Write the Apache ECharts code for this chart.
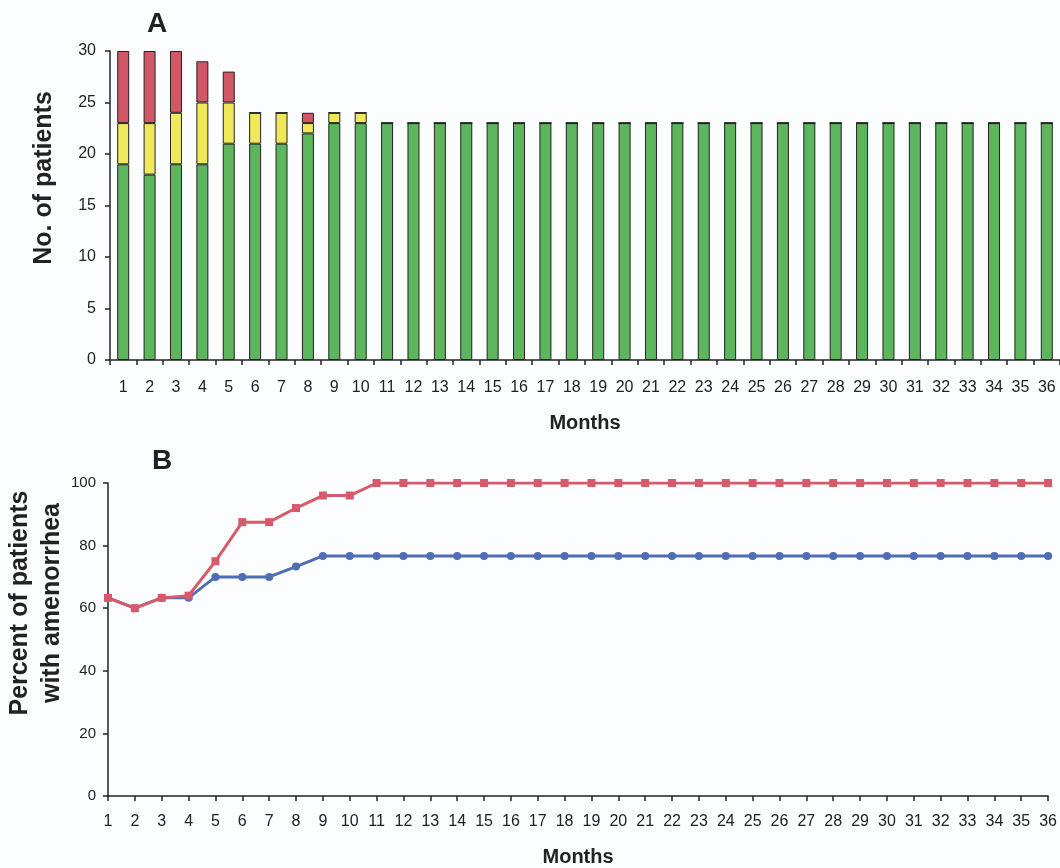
<!DOCTYPE html>
<html>
<head>
<meta charset="utf-8">
<script src="https://cdn.jsdelivr.net/npm/echarts@6/dist/echarts.min.js"></script>
<style>
  html, body { margin: 0; padding: 0; background: #fcfdfe; }
  #main { width: 1060px; height: 868px; }
</style>
</head>
<body>
<div id="main"></div>
<script>
const months = [];
for (let m = 1; m <= 36; m++) months.push(String(m));

// panel A: patients per month, stacked
const greenCounts = [19, 18, 19, 19, 21, 21, 21, 22, 23, 23,
    23, 23, 23, 23, 23, 23, 23, 23, 23, 23, 23, 23, 23, 23, 23, 23, 23, 23, 23, 23, 23, 23, 23, 23, 23, 23];
const yellowCounts = [4, 5, 5, 6, 4, 3, 3, 1, 1, 1,
    0, 0, 0, 0, 0, 0, 0, 0, 0, 0, 0, 0, 0, 0, 0, 0, 0, 0, 0, 0, 0, 0, 0, 0, 0, 0];
const redCounts = [7, 7, 6, 4, 3, 0, 0, 1, 0, 0,
    0, 0, 0, 0, 0, 0, 0, 0, 0, 0, 0, 0, 0, 0, 0, 0, 0, 0, 0, 0, 0, 0, 0, 0, 0, 0];

// panel B: percent with amenorrhea
const redPercent = [63.3, 60, 63.3, 64, 75, 87.5, 87.5, 92, 96, 96,
    100, 100, 100, 100, 100, 100, 100, 100, 100, 100, 100, 100, 100, 100, 100, 100, 100, 100, 100, 100, 100, 100, 100, 100, 100, 100];
const bluePercent = [63.3, 60, 63.3, 63.3, 70, 70, 70, 73.3, 76.7, 76.7,
    76.7, 76.7, 76.7, 76.7, 76.7, 76.7, 76.7, 76.7, 76.7, 76.7, 76.7, 76.7, 76.7, 76.7, 76.7, 76.7, 76.7, 76.7, 76.7, 76.7, 76.7, 76.7, 76.7, 76.7, 76.7, 76.7];

const font = 'Liberation Sans, Arial, sans-serif';
const axisLine = { show: true, lineStyle: { color: '#222', width: 1.5 } };
const axisTick = { show: true, length: 5, lineStyle: { color: '#222', width: 1.5 } };
const tickLabel = { color: '#222', fontSize: 16, fontFamily: font };
const nameStyle = { color: '#222', fontSize: 20, fontWeight: 'bold', fontFamily: font };

const barSeries = (name, data, color) => ({
    name: name,
    type: 'bar',
    stack: 'a',
    barWidth: 12,
    xAxisIndex: 0,
    yAxisIndex: 0,
    itemStyle: { color: color, borderColor: '#222', borderWidth: 1 },
    data: data
});

const vText = (text, x, y) => ({
    type: 'text',
    x: x,
    y: y,
    rotation: Math.PI / 2,
    style: {
        text: text,
        font: 'bold 25px Liberation Sans, Arial, sans-serif',
        fill: '#222',
        textAlign: 'center',
        textVerticalAlign: 'middle'
    }
});

var myChart = echarts.init(document.getElementById('main'));
let option = {
    backgroundColor: '#fcfdfe',
    animation: false,
    title: [
        { text: 'A', left: 142, top: 5, textStyle: { fontSize: 28, fontWeight: 'bold', fontFamily: font, color: '#222' } },
        { text: 'B', left: 147, top: 442, textStyle: { fontSize: 28, fontWeight: 'bold', fontFamily: font, color: '#222' } }
    ],
    graphic: [
        vText('No. of patients', 44, 178),
        vText('Percent of patients', 20, 603),
        vText('with amenorrhea', 52, 603)
    ],
    grid: [
        { left: 110, top: 51, width: 950, height: 309 },
        { left: 108, top: 483, width: 945, height: 314 }
    ],
    xAxis: [
        {
            gridIndex: 0,
            type: 'category',
            data: months,
            boundaryGap: true,
            axisLine: axisLine,
            axisTick: axisTick,
            axisLabel: Object.assign({ margin: 20, interval: 0 }, tickLabel),
            name: 'Months',
            nameLocation: 'middle',
            nameGap: 53,
            nameTextStyle: nameStyle
        },
        {
            gridIndex: 1,
            type: 'category',
            data: months,
            boundaryGap: false,
            axisLine: axisLine,
            axisTick: Object.assign({ interval: 0 }, axisTick),
            axisLabel: Object.assign({ margin: 18, interval: 0 }, tickLabel),
            name: 'Months',
            nameLocation: 'middle',
            nameGap: 51,
            nameTextStyle: nameStyle
        }
    ],
    yAxis: [
        {
            gridIndex: 0,
            type: 'value',
            min: 0,
            max: 30,
            interval: 5,
            splitLine: { show: false },
            axisLine: axisLine,
            axisTick: axisTick,
            axisLabel: Object.assign({ margin: 14 }, tickLabel)
        },
        {
            gridIndex: 1,
            type: 'value',
            min: 0,
            max: 100,
            interval: 20,
            splitLine: { show: false },
            axisLine: axisLine,
            axisTick: axisTick,
            axisLabel: Object.assign({ margin: 12 }, tickLabel, { fontSize: 15 })
        }
    ],
    series: [
        barSeries('green', greenCounts, '#5db55e'),
        barSeries('yellow', yellowCounts, '#eee85a'),
        barSeries('red', redCounts, '#d25766'),
        {
            name: 'blue line',
            type: 'line',
            xAxisIndex: 1,
            yAxisIndex: 1,
            symbol: 'circle',
            symbolSize: 8,
            itemStyle: { color: '#4f6db3' },
            lineStyle: { color: '#4f6db3', width: 3 },
            data: bluePercent
        },
        {
            name: 'red line',
            type: 'line',
            xAxisIndex: 1,
            yAxisIndex: 1,
            symbol: 'rect',
            symbolSize: 8,
            itemStyle: { color: '#d75a6a' },
            lineStyle: { color: '#d75a6a', width: 3 },
            data: redPercent
        }
    ]
};
myChart.setOption(option);
</script>
</body>
</html>
